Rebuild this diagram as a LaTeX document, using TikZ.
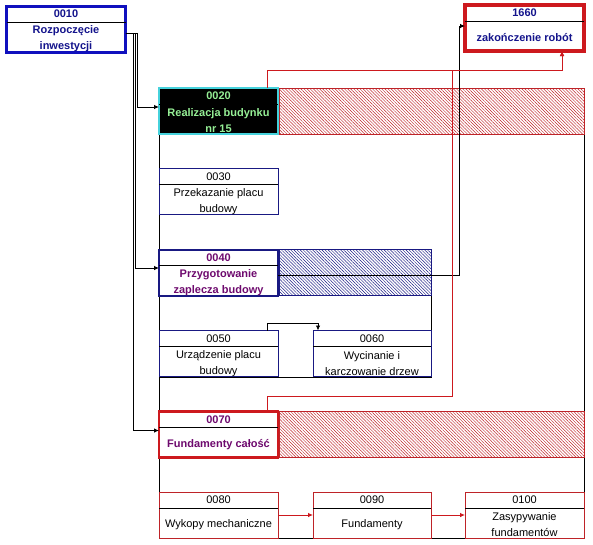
\documentclass[tikz,border=0pt]{standalone}
\usepackage{fontspec}
\setmainfont{Liberation Sans}
\usetikzlibrary{arrows.meta,patterns.meta}

\definecolor{blueline}{RGB}{16,16,190}
\definecolor{navytext}{RGB}{20,20,140}
\definecolor{navyline}{RGB}{25,25,130}
\definecolor{redline}{RGB}{205,25,30}
\definecolor{thinred}{RGB}{190,35,40}
\definecolor{cyanline}{RGB}{70,210,220}
\definecolor{greentext}{RGB}{150,240,150}
\definecolor{purpletext}{RGB}{110,10,110}

\tikzset{
  task/.style={draw, fill=white, minimum width=119pt, minimum height=46pt, outer sep=0pt, inner sep=0pt},
  plaintxt/.style={font=\fontsize{11}{16}\selectfont, inner sep=0pt, align=center},
  boldtxt/.style={font=\fontsize{11}{16}\selectfont\bfseries, inner sep=0pt, align=center},
  hatch/.style={draw=#1, line width=0.6pt, pattern={Lines[angle=-45,distance=2.2pt,line width=0.45pt]},
    pattern color=#1, minimum height=46pt, outer sep=0pt, inner sep=0pt, anchor=west},
  frame/.style={draw, line width=0.7pt},
  link/.style={draw, line width=0.8pt, -{Latex[length=5pt,width=4.5pt]}},
  redlink/.style={link, draw=redline},
}

% name, centre, box style, text style, number, title
\newcommand\taskbox[6]{%
  \node[task, #3] (#1) at (#2) {};
  \draw[line width=0.6pt] ([yshift=-16pt]#1.north west) -- ([yshift=-16pt]#1.north east);
  \node[#4] (#1n) at ([yshift=-8pt]#1.north) {#5};
  \node[#4] (#1t) at ([yshift=-9.7pt]#1.center) {#6};
}

\begin{document}
\begin{tikzpicture}[x=1pt, y=-1pt]
  \useasboundingbox (0,0) rectangle (593,544);

  % frames of the summary tasks
  \draw[frame] (159,88) rectangle (584,538);
  \draw[frame] (159,249) rectangle (431,377);
  \draw[frame] (159,411) rectangle (584,538);

  \taskbox{t0010}{66,29}{draw=blueline, line width=3pt}{boldtxt, text=navytext}{0010}{Rozpoczęcie\\inwestycji}
  \taskbox{t1660}{524.5,28}{draw=redline, line width=3.5pt}{boldtxt, text=navytext}{1660}{zakończenie robót}
  \taskbox{t0020}{218.5,111}{draw=cyanline, fill=black, line width=2pt}{boldtxt, text=greentext}{0020}{Realizacja budynku\\nr 15}
  \taskbox{t0030}{218.5,191.5}{draw=navyline, line width=0.8pt}{plaintxt}{0030}{Przekazanie placu\\budowy}
  \taskbox{t0040}{218.5,272.5}{draw=navyline, line width=2pt}{boldtxt, text=purpletext}{0040}{Przygotowanie\\zaplecza budowy}
  \taskbox{t0050}{218.5,353.5}{draw=navyline, line width=0.8pt}{plaintxt}{0050}{Urządzenie placu\\budowy}
  \taskbox{t0060}{372,353.5}{draw=navyline, line width=0.8pt, minimum width=118pt}{plaintxt}{0060}{Wycinanie i\\karczowanie drzew}
  \taskbox{t0070}{218.5,434.5}{draw=redline, line width=2.5pt}{boldtxt, text=purpletext}{0070}{Fundamenty całość}
  \taskbox{t0080}{218.5,515}{draw=thinred, line width=0.8pt}{plaintxt}{0080}{Wykopy mechaniczne}
  \taskbox{t0090}{372,515}{draw=thinred, line width=0.8pt, minimum width=118pt}{plaintxt}{0090}{Fundamenty}
  \taskbox{t0100}{524.5,515}{draw=thinred, line width=0.8pt}{plaintxt}{0100}{Zasypywanie\\fundamentów}

  % bars
  \node[hatch=thinred, minimum width=305pt] (b0020) at ([xshift=1pt]t0020.east) {};
  \node[hatch=navyline, minimum width=152pt] (b0040) at ([xshift=1pt]t0040.east) {};
  \node[hatch=thinred, minimum width=305pt] (b0070) at ([xshift=1.25pt]t0070.east) {};

  % links
  \draw[link] ([yshift=-4pt]t0010.east) -- ++(12,0) |- ([yshift=4pt]t0020.west);
  \draw[link] ([yshift=-4pt]t0010.east) -- ++(10,0) |- ([yshift=4.5pt]t0040.west);
  \draw[link] ([yshift=-4pt]t0010.east) -- ++(8,0) |- ([yshift=4pt]t0070.west);
  \draw[link] ([yshift=-2.5pt]t0040.east) -- ++(181,0) |- ([yshift=2pt]t1660.west);
  \draw[link] ([xshift=-11pt]t0050.north east) -- ++(0,-7) -| ([xshift=5pt]t0060.north west);

  \coordinate (bus) at ([xshift=37.5pt,yshift=-19pt]t1660.south);
  \draw[redlink] ([xshift=-11pt]t0020.north east) |- (bus) -- ([xshift=37.5pt]t1660.south);
  \draw[redlink] ([xshift=-11pt]t0070.north east) -- ++(0,-15) -| ([xshift=-110pt]bus) -- (bus)
    -- ([xshift=37.5pt]t1660.south);
  \draw[redlink] (t0080.east) -- (t0090.west);
  \draw[redlink] (t0090.east) -- (t0100.west);
\end{tikzpicture}
\end{document}
